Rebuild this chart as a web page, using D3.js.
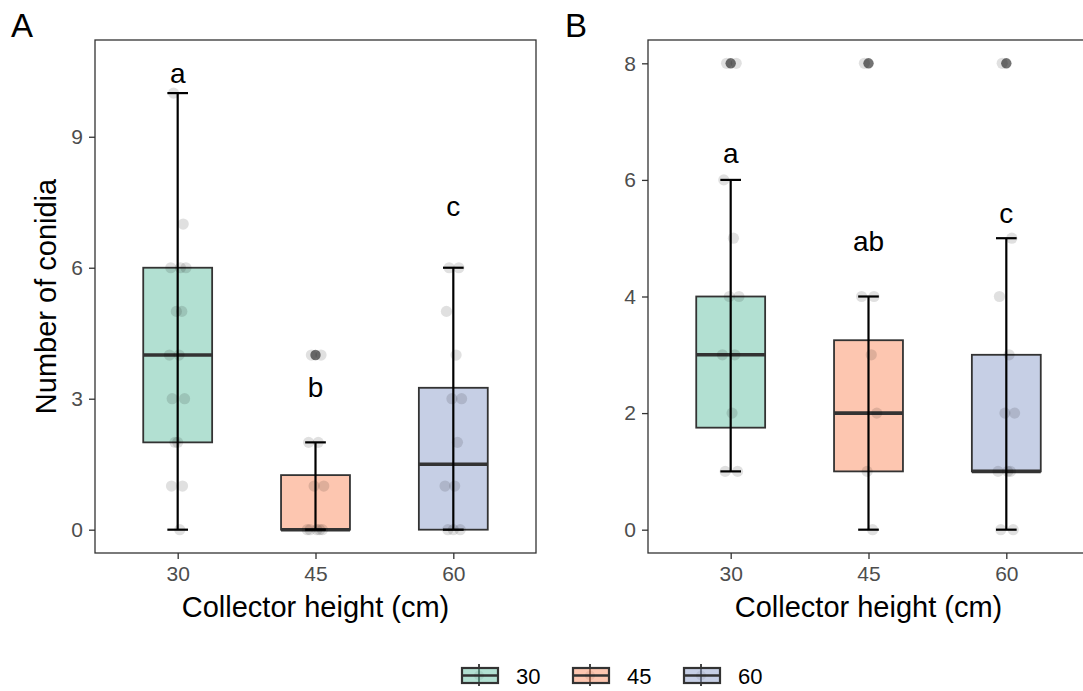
<!DOCTYPE html>
<html>
<head>
<meta charset="utf-8">
<script src="https://cdn.jsdelivr.net/npm/d3@7"></script>
<style>
body { margin: 0; background: #fff; }
svg text { font-family: "Liberation Sans", Arial, sans-serif; }
</style>
</head>
<body>
<svg id="chart" width="1083" height="691"></svg>
<script>
// ---------- data ----------
const categories = ["30", "45", "60"];
const fillColors = ["#66c2a5", "#fc8d62", "#8da0cb"];

// Panel A box statistics
const aQ1 = [2, 0, 0];
const aMedian = [4, 0, 1.5];
const aQ3 = [6, 1.25, 3.25];
const aLow = [0, 0, 0];
const aHigh = [10, 2, 6];
const aOutliers = [[], [4], []];
const aPoints = [
  [10, 7, 6, 6, 6, 5, 5, 4, 4, 3, 3, 2, 2, 1, 1, 0],
  [4, 4, 2, 2, 1, 1, 0, 0, 0, 0, 0],
  [6, 6, 5, 4, 3, 3, 2, 1, 1, 0, 0, 0]
];
const aLetters = ["a", "b", "c"];
const aLetterY = [10.45, 3.25, 7.4];
const aTicks = [0, 3, 6, 9];

// Panel B box statistics
const bQ1 = [1.75, 1, 1];
const bMedian = [3, 2, 1];
const bQ3 = [4, 3.25, 3];
const bLow = [1, 0, 0];
const bHigh = [6, 4, 5];
const bOutliers = [[8], [8], [8]];
const bPoints = [
  [8, 8, 6, 5, 4, 4, 3, 3, 2, 1, 1],
  [8, 4, 4, 3, 2, 1, 0],
  [8, 5, 4, 3, 2, 2, 1, 1, 1, 0, 0]
];
const bLetters = ["a", "ab", "c"];
const bLetterY = [6.46, 4.95, 5.43];
const bTicks = [0, 2, 4, 6, 8];

// fixed horizontal jitter offsets (fraction of category step)
const jitterOffsets = [-0.03, 0.04, -0.05, 0.02, 0.06, -0.01, 0.03, -0.06, 0.01, -0.04, 0.05, 0.0, -0.02, 0.035, -0.045, 0.015];

// ---------- drawing ----------
const svg = d3.select("#chart");

function panel(opts) {
  const { xRange, yRange, yDomain, q1, med, q3, lo, hi, outliers, points, letters, letterY, ticks, tag, tagX, showYTitle } = opts;
  const x = d3.scalePoint().domain(categories).range(xRange).padding(0.6);
  const y = d3.scaleLinear().domain(yDomain).range(yRange);
  const step = x.step();
  const g = svg.append("g");

  const clipId = "clip" + tag;
  svg.append("clipPath").attr("id", clipId).append("rect")
    .attr("x", xRange[0]).attr("y", yRange[1])
    .attr("width", xRange[1] - xRange[0]).attr("height", yRange[0] - yRange[1]);
  const plot = g.append("g").attr("clip-path", `url(#${clipId})`);

  const boxW = step * 0.5;
  const capW = step * 0.15;
  categories.forEach((c, i) => {
    const cx = x(c);
    plot.append("rect")
      .attr("x", cx - boxW / 2).attr("width", boxW)
      .attr("y", y(q3[i])).attr("height", y(q1[i]) - y(q3[i]))
      .attr("fill", fillColors[i]).attr("fill-opacity", 0.5)
      .attr("stroke", "#333333").attr("stroke-width", 1.8);
    plot.append("line")
      .attr("x1", cx - boxW / 2).attr("x2", cx + boxW / 2)
      .attr("y1", y(med[i])).attr("y2", y(med[i]))
      .attr("stroke", "#333333").attr("stroke-width", 3.6);
    outliers[i].forEach(v => {
      plot.append("circle").attr("cx", cx).attr("cy", y(v)).attr("r", 5.2)
        .attr("fill", "#000").attr("fill-opacity", 0.55);
    });
    plot.append("line")
      .attr("x1", cx).attr("x2", cx).attr("y1", y(lo[i])).attr("y2", y(hi[i]))
      .attr("stroke", "#000").attr("stroke-width", 2.2);
    [lo[i], hi[i]].forEach(v => {
      plot.append("line")
        .attr("x1", cx - capW / 2).attr("x2", cx + capW / 2)
        .attr("y1", y(v)).attr("y2", y(v))
        .attr("stroke", "#000").attr("stroke-width", 2.2);
    });
    points[i].forEach((v, k) => {
      plot.append("circle")
        .attr("cx", cx + jitterOffsets[k % jitterOffsets.length] * step)
        .attr("cy", y(v)).attr("r", 5.6)
        .attr("fill", "#000").attr("fill-opacity", 0.12);
    });
    plot.append("text").attr("x", cx).attr("y", y(letterY[i]))
      .attr("text-anchor", "middle").attr("dominant-baseline", "central")
      .attr("font-size", 28).attr("fill", "#000").text(letters[i]);
  });

  g.append("rect")
    .attr("x", xRange[0]).attr("y", yRange[1])
    .attr("width", xRange[1] - xRange[0]).attr("height", yRange[0] - yRange[1])
    .attr("fill", "none").attr("stroke", "#333333").attr("stroke-width", 1.3);

  const yAxis = d3.axisLeft(y).tickValues(ticks).tickSize(6).tickPadding(6).tickFormat(d3.format("d"));
  const ya = g.append("g").attr("transform", `translate(${xRange[0]},0)`).call(yAxis);
  ya.select(".domain").remove();
  ya.selectAll(".tick line").attr("stroke", "#333333").attr("stroke-width", 1.3);
  ya.selectAll(".tick text").attr("fill", "#4d4d4d").attr("font-size", 21)
    .style("font-family", "'Liberation Sans', Arial, sans-serif");

  const xAxis = d3.axisBottom(x).tickSize(6).tickPadding(7);
  const xa = g.append("g").attr("transform", `translate(0,${yRange[0]})`).call(xAxis);
  xa.select(".domain").remove();
  xa.selectAll(".tick line").attr("stroke", "#333333").attr("stroke-width", 1.3);
  xa.selectAll(".tick text").attr("fill", "#4d4d4d").attr("font-size", 21)
    .style("font-family", "'Liberation Sans', Arial, sans-serif");

  const cxMid = x(categories[1]);
  g.append("text").attr("x", cxMid).attr("y", 617)
    .attr("text-anchor", "middle").attr("font-size", 29).attr("fill", "#000")
    .text("Collector height (cm)");

  if (showYTitle) {
    const cy = (yRange[0] + yRange[1]) / 2;
    g.append("text").attr("transform", `translate(56,${cy}) rotate(-90)`)
      .attr("text-anchor", "middle").attr("font-size", 29).attr("fill", "#000")
      .text("Number of conidia");
  }

  g.append("text").attr("x", tagX).attr("y", 37)
    .attr("font-size", 33).attr("fill", "#000").text(tag);
}

panel({
  xRange: [95, 536], yRange: [553, 40], yDomain: [-0.534, 11.216],
  q1: aQ1, med: aMedian, q3: aQ3, lo: aLow, hi: aHigh,
  outliers: aOutliers, points: aPoints, letters: aLetters, letterY: aLetterY,
  ticks: aTicks, tag: "A", tagX: 11, showYTitle: true
});
panel({
  xRange: [648, 1089], yRange: [553, 40], yDomain: [-0.4, 8.4],
  q1: bQ1, med: bMedian, q3: bQ3, lo: bLow, hi: bHigh,
  outliers: bOutliers, points: bPoints, letters: bLetters, letterY: bLetterY,
  ticks: bTicks, tag: "B", tagX: 565, showYTitle: false
});

// ---------- legend ----------
const legend = svg.append("g");
const legendX = d3.scalePoint().domain(categories).range([461, 683]);
categories.forEach((c, i) => {
  const lx = legendX(c);
  const kg = legend.append("g").attr("transform", `translate(${lx},667)`);
  kg.append("line").attr("x1", 18).attr("x2", 18).attr("y1", -3).attr("y2", 19)
    .attr("stroke", "#333333").attr("stroke-width", 1.8);
  kg.append("rect").attr("x", 1).attr("y", 1).attr("width", 36).attr("height", 15)
    .attr("fill", fillColors[i]).attr("fill-opacity", 0.5)
    .attr("stroke", "#333333").attr("stroke-width", 2.2);
  kg.append("line").attr("x1", 1).attr("x2", 37).attr("y1", 8.5).attr("y2", 8.5)
    .attr("stroke", "#333333").attr("stroke-width", 2.6);
  kg.append("circle").attr("cx", 18).attr("cy", 8.5).attr("r", 5)
    .attr("fill", "#000").attr("fill-opacity", 0.06);
  legend.append("text").attr("x", lx + 55).attr("y", 684)
    .attr("font-size", 22).attr("fill", "#000").text(c);
});
</script>
</body>
</html>
